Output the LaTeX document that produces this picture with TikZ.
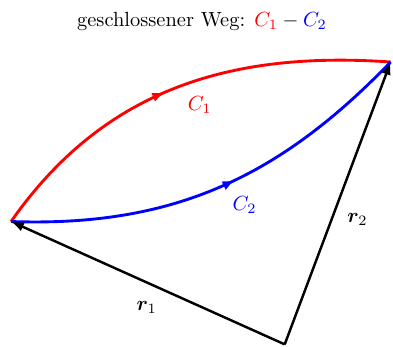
\documentclass[tikz,border=0pt]{standalone}
\usepackage{amsmath, amssymb}
\usepackage{bm}
\usepackage{xcolor}
\usepackage{tikz}
\usetikzlibrary{arrows.meta, decorations.markings}

\begin{document}
\begin{tikzpicture}[
  weg/.style={line width=1.4pt, postaction={decorate},
    decoration={markings, mark=at position #1 with {\arrow{Latex[length=2.2mm]}}}},
  weg/.default=0.5,
  vek/.style={-{Latex[length=2.2mm]}, line width=1.2pt},
  lbl/.style={font=\normalsize}
]
  \useasboundingbox (0,0) rectangle (6.75,5.955);

  \coordinate (O) at (4.89,0.04);
  \coordinate (A) at (0.19,2.15);
  \coordinate (B) at (6.71,4.89);

  \node[lbl] (titel) at (3.47,5.58) {geschlossener Weg: $\textcolor{red}{C_1}-\textcolor{blue}{C_2}$};

  \draw[weg=0.47, red]  (A) to[out=55, in=176] (B);
  \draw[weg=0.54, blue] (A) to[out=-2, in=226] (B);
  \draw[vek] (O) -- (A);
  \draw[vek] (O) -- (B);

  \node[lbl, red]  (c1) at (3.43,4.15) {$C_1$};
  \node[lbl, blue] (c2) at (4.20,2.44) {$C_2$};
  \node[lbl] (r1) at (2.52,0.67) {$\bm{r}_1$};
  \node[lbl] (r2) at (6.14,2.18) {$\bm{r}_2$};
\end{tikzpicture}
\end{document}
